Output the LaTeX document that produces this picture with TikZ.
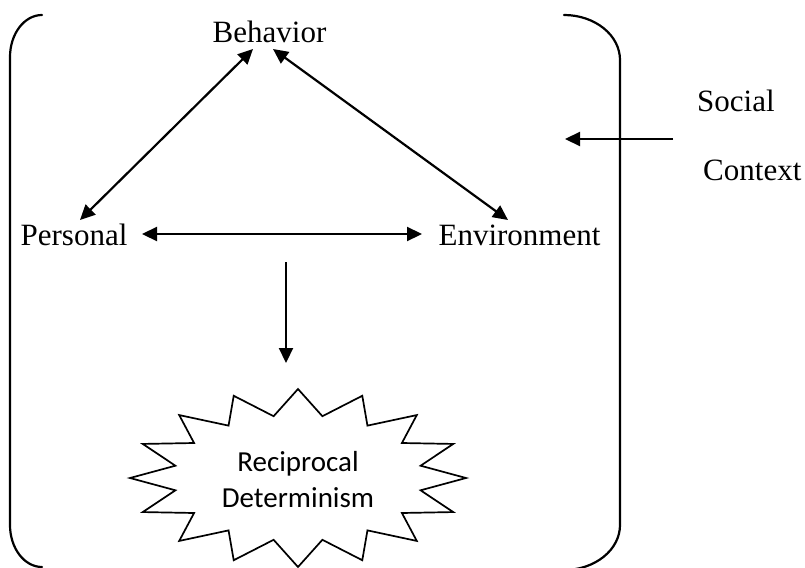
\documentclass[tikz,border=0pt]{standalone}
\usepackage{fontspec}
\setmainfont{Liberation Serif}
\newfontfamily\calib{Carlito}
\usetikzlibrary{arrows.meta,calc}
\begin{document}
\begin{tikzpicture}[x=1pt,y=-1pt,
  lab/.style={inner sep=0pt,font=\fontsize{31}{37}\selectfont},
  starlab/.style={inner sep=0pt,align=center,font=\calib\fontsize{29}{36}\selectfont},
  frameline/.style={line width=2.2pt,line cap=round},
  starline/.style={line width=1.7pt,line join=miter},
  arr/.style={line width=2.2pt,-{Triangle[length=15pt,width=14pt]}},
  dbl/.style={line width=2.2pt,{Triangle[length=15pt,width=14pt]}-{Triangle[length=15pt,width=14pt]}}]
\useasboundingbox (0,0) rectangle (805,567);
\begin{scope}
\clip (0,0) rectangle (805,567);
% frame (bracket pair)
\draw[frameline] (42,15) arc[start angle=90,end angle=180,x radius=32pt,y radius=42pt]
  -- (10,525) arc[start angle=180,end angle=270,x radius=32pt,y radius=42pt];
\draw[frameline] (564,15) arc[start angle=90,end angle=0,x radius=56pt,y radius=45pt]
  -- (620,525) arc[start angle=0,end angle=-90,x radius=56pt,y radius=45pt];
% star
\coordinate (sc) at (298,478);
\draw[starline] ($(sc)+(90:168pt and 89pt)$)
  \foreach \k [evaluate=\k as \rx using {mod(\k,2)==0 ? 168 : 125},
               evaluate=\k as \ry using {mod(\k,2)==0 ? 89 : 63}] in {1,...,31}
  { -- ($(sc)+({90+\k*11.25}:{\rx pt} and {\ry pt})$) } -- cycle;
\end{scope}
\node[starlab] (rd) at (298,480) {Reciprocal\\Determinism};
% labels
\node[lab,anchor=base] (beh) at (269.5,43) {Behavior};
\node[lab,anchor=base] (per) at (74,245) {Personal};
\node[lab,anchor=base] (env) at (519.5,245) {Environment};
\node[lab,anchor=base west] (soc) at (697,112) {Social};
\node[lab,anchor=base west] (ctx) at (703,180) {Context};
% connectors
\draw[dbl] ($(beh.base)+(-16.5,6)$) -- ($(per.base)+(6,-25)$);
\draw[dbl] ($(beh.base)+(3.5,6)$) -- ($(env.base)+(-11.5,-25)$);
\draw[dbl] ($(per.base)+(68,-11)$) -- ($(env.base)+(-97.5,-11)$);
\coordinate (ds) at (286,262);
\draw[arr] (ds) -- ($(sc)+(-12,-115)$);
\draw[arr] ($(soc.base west)+(-24,27)$) -- ($(soc.base west)+(-132,27)$);
\end{tikzpicture}
\end{document}
